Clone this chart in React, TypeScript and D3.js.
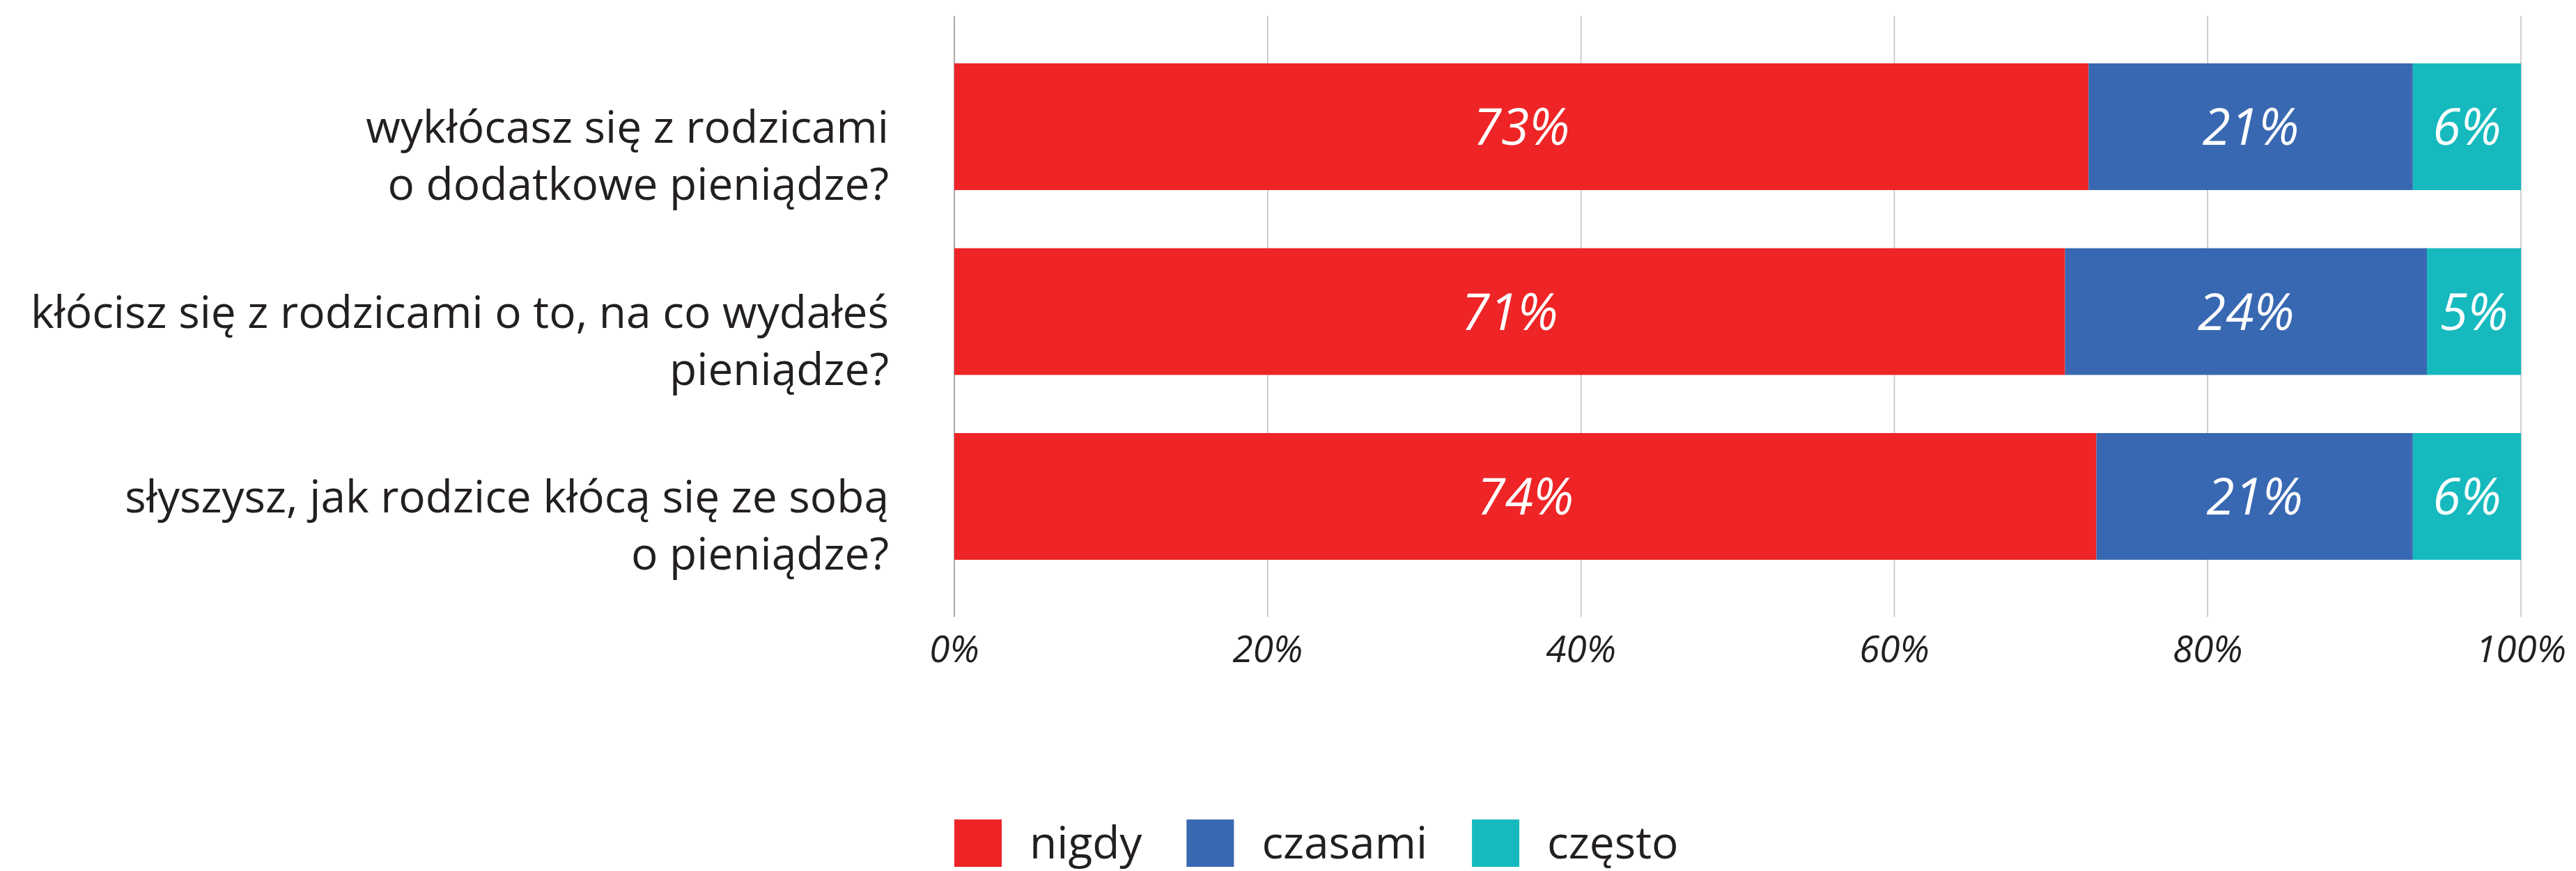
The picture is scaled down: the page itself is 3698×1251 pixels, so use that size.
import React, { useEffect, useRef } from "react";
import * as d3 from "d3";

// ---- data ----
const categories = ["q1", "q2", "q3"];
const categoryLines = [
  ["wykłócasz się z rodzicami", "o dodatkowe pieniądze?"],
  ["kłócisz się z rodzicami o to, na co wydałeś", "pieniądze?"],
  ["słyszysz, jak rodzice kłócą się ze sobą", "o pieniądze?"],
];
const seriesNames = ["nigdy", "czasami", "często"];
const nigdyValues = [72.4, 70.9, 72.9];
const czasamiValues = [20.7, 23.1, 20.2];
const czestoValues = [6.9, 6.0, 6.9];
const nigdyLabels = ["73%", "71%", "74%"];
const czasamiLabels = ["21%", "24%", "21%"];
const czestoLabels = ["6%", "5%", "6%"];
const tickValues = [0, 20, 40, 60, 80, 100];
const seriesColors = ["#EE2426", "#3968B2", "#16BABE"];

const W = 3698;
const H = 1251;
const FONT = "'Open Sans', 'Noto Sans', sans-serif";
const TEXT = "#231F20";

export default function App() {
  const ref = useRef<SVGSVGElement | null>(null);

  useEffect(() => {
    const svg = d3.select(ref.current);
    svg.selectAll("*").remove();

    const x = d3.scaleLinear().domain([0, 100]).range([1370, 3619]);
    const y = d3
      .scaleBand<string>()
      .domain(categories)
      .range([16, 879])
      .paddingInner(0.3145)
      .paddingOuter(0.2825);

    const gridTop = 23;
    const gridBottom = 886;

    // gridlines
    svg
      .append("g")
      .selectAll("line")
      .data(tickValues)
      .join("line")
      .attr("x1", (d) => x(d))
      .attr("x2", (d) => x(d))
      .attr("y1", gridTop)
      .attr("y2", gridBottom)
      .attr("stroke", (d) => (d === 0 ? "#A8A8A8" : "#C4C4C4"))
      .attr("stroke-width", (d) => (d === 0 ? 2 : 1.6));

    // tick labels
    svg
      .append("g")
      .selectAll("text")
      .data(tickValues)
      .join("text")
      .attr("x", (d) => x(d))
      .attr("y", 951)
      .attr("text-anchor", "middle")
      .attr("font-family", FONT)
      .attr("font-style", "italic")
      .attr("font-size", 53)
      .attr("fill", TEXT)
      .text((d) => `${d}%`);

    // stacked data
    const rows = categories.map((c, i) => ({
      key: c,
      nigdy: nigdyValues[i],
      czasami: czasamiValues[i],
      czesto: czestoValues[i],
    }));
    const keys = ["nigdy", "czasami", "czesto"];
    const labelSets = [nigdyLabels, czasamiLabels, czestoLabels];
    const stack = d3.stack<any>().keys(keys)(rows);

    const gBars = svg.append("g");
    stack.forEach((layer, li) => {
      const g = gBars.append("g").attr("fill", seriesColors[li]);
      g.selectAll("rect")
        .data(layer)
        .join("rect")
        .attr("x", (d) => x(d[0]))
        .attr("width", (d) => x(d[1]) - x(d[0]))
        .attr("y", (d) => y(d.data.key)!)
        .attr("height", y.bandwidth());
      gBars
        .append("g")
        .selectAll("text")
        .data(layer)
        .join("text")
        .attr("x", (d) => (x(d[0]) + x(d[1])) / 2)
        .attr("y", (d) => y(d.data.key)! + y.bandwidth() / 2)
        .attr("dy", "0.36em")
        .attr("text-anchor", "middle")
        .attr("font-family", FONT)
        .attr("font-style", "italic")
        .attr("font-size", 73)
        .attr("fill", "#FFFFFF")
        .text((d, i) => labelSets[li][i]);
    });

    // category labels
    const gCat = svg.append("g");
    categories.forEach((c, i) => {
      const cy = y(c)! + y.bandwidth() / 2;
      const t = gCat
        .append("text")
        .attr("text-anchor", "end")
        .attr("font-family", FONT)
        .attr("font-size", 64)
        .attr("fill", TEXT);
      categoryLines[i].forEach((line, li) => {
        t.append("tspan")
          .attr("x", 1276)
          .attr("y", cy + 23 + li * 82)
          .text(line);
      });
    });

    // legend
    const gLeg = svg.append("g");
    let lx = 1370;
    seriesNames.forEach((name, i) => {
      gLeg
        .append("rect")
        .attr("x", lx)
        .attr("y", 1177)
        .attr("width", 68)
        .attr("height", 68)
        .attr("fill", seriesColors[i]);
      const txt = gLeg
        .append("text")
        .attr("x", lx + 108)
        .attr("y", 1233)
        .attr("font-family", FONT)
        .attr("font-size", 64)
        .attr("fill", TEXT)
        .text(name);
      const w = (txt.node() as SVGTextElement).getComputedTextLength();
      lx = lx + 108 + w + 64;
    });
  }, []);

  return (
    <svg
      ref={ref}
      width={W}
      height={H}
      viewBox={`0 0 ${W} ${H}`}
      style={{ position: "absolute", left: 0, top: 0, background: "#FFFFFF" }}
    />
  );
}
